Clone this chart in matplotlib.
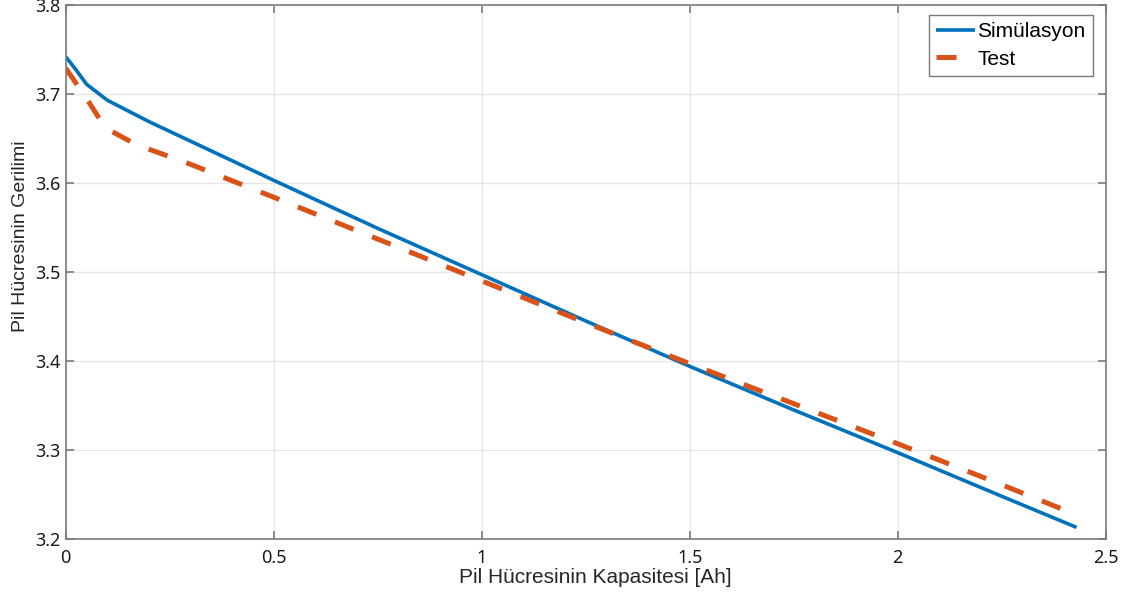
import matplotlib
matplotlib.use("Agg")
import matplotlib.pyplot as plt

sim_x = [0.0, 0.025, 0.05, 0.1, 0.15, 0.2, 0.3, 0.4, 0.5, 0.75, 1.0, 1.25, 1.5, 1.75, 2.0, 2.25, 2.43]
sim_y = [3.742, 3.727, 3.711, 3.693, 3.681, 3.669, 3.647, 3.625, 3.603, 3.549, 3.497, 3.445, 3.394, 3.345, 3.297, 3.248, 3.213]

test_x = [0.0, 0.05, 0.095, 0.15, 0.2, 0.3, 0.5, 0.75, 1.0, 1.25, 1.5, 1.75, 2.0, 2.25, 2.43]
test_y = [3.729, 3.695, 3.662, 3.648, 3.638, 3.621, 3.584, 3.537, 3.490, 3.443, 3.397, 3.352, 3.307, 3.261, 3.227]

xticks = [0, 0.5, 1, 1.5, 2, 2.5]
xticklabels = ["0", "0.5", "1", "1.5", "2", "2.5"]
yticks = [3.2, 3.3, 3.4, 3.5, 3.6, 3.7, 3.8]
yticklabels = ["3.2", "3.3", "3.4", "3.5", "3.6", "3.7", "3.8"]

fig = plt.figure(figsize=(11.27, 6.02), dpi=100)
ax = fig.add_axes([0.0583, 0.1047, 0.9228, 0.8870])

ax.plot(sim_x, sim_y, color="#0072BD", lw=2.6, label="Simülasyon", solid_capstyle="butt")
ax.plot(test_x, test_y, color="#D95319", lw=3.6, dashes=(4, 4), label="Test")

ax.set_xlim(0, 2.5)
ax.set_ylim(3.2, 3.8)
ax.set_xticks(xticks)
ax.set_xticklabels(xticklabels)
ax.set_yticks(yticks)
ax.set_yticklabels(yticklabels)
ax.grid(True, color="#e6e6e6", lw=1.0)
ax.set_axisbelow(True)
for s in ax.spines.values():
    s.set_color("#7a7a7a")
    s.set_linewidth(1.2)
ax.tick_params(direction="in", length=6, width=1.2, color="#7a7a7a",
               top=True, right=True, labelsize=13, labelcolor="#1a1a1a")
ax.tick_params(axis="x", pad=7)
ax.tick_params(axis="y", pad=4)
for lab in ax.get_xticklabels() + ax.get_yticklabels():
    lab.set_family("Noto Sans")

ax.set_xlabel("Pil Hücresinin Kapasitesi [Ah]", family="Liberation Sans", fontsize=15,
              color="#262626")
ax.xaxis.set_label_coords(0.509, -0.055)
ax.set_ylabel("Pil Hücresinin Gerilimi", family="Liberation Sans", fontsize=14,
              color="#262626")
ax.yaxis.set_label_coords(-0.035, 0.567)

leg = ax.legend(loc="upper right", prop={"family": "Liberation Sans", "size": 15},
                fancybox=False, framealpha=1, edgecolor="#7a7a7a", handlelength=1.9,
                handletextpad=0.1, borderpad=0.35, labelspacing=0.4, borderaxespad=0,
                bbox_to_anchor=(0.9878, 0.9813))
leg.get_frame().set_linewidth(1.0)

fig.savefig("out.png", dpi=100)
